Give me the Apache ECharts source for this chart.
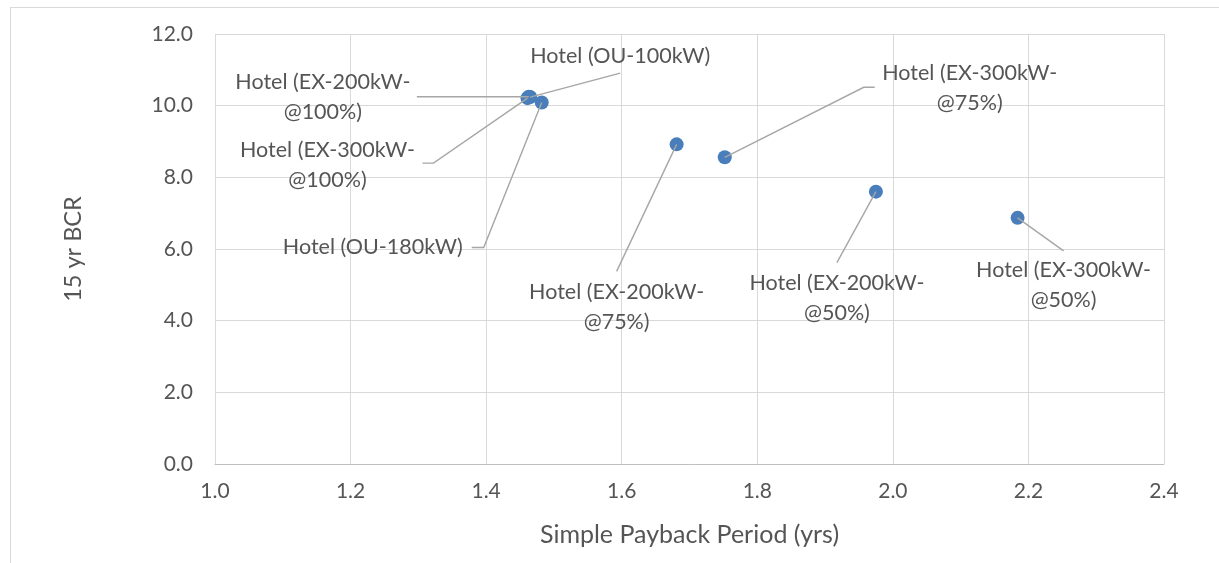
<!DOCTYPE html>
<html>
<head>
<meta charset="utf-8">
<script src="https://cdn.jsdelivr.net/npm/echarts@6/dist/echarts.min.js"></script>
<style>
  html, body { margin: 0; padding: 0; background: #fff; }
  #chart { width: 1219px; height: 563px; }
</style>
</head>
<body>
<div id="chart"></div>
<script>
// Hotel scenarios: simple payback vs. 15-year benefit/cost ratio
const scenarioLabels = [
  'Hotel (EX-200kW-\n@100%)',
  'Hotel (OU-100kW)',
  'Hotel (EX-300kW-\n@100%)',
  'Hotel (OU-180kW)',
  'Hotel (EX-200kW-\n@75%)',
  'Hotel (EX-300kW-\n@75%)',
  'Hotel (EX-200kW-\n@50%)',
  'Hotel (EX-300kW-\n@50%)'
];
const paybackYears = [1.463, 1.465, 1.461, 1.482, 1.681, 1.752, 1.975, 2.184];
const bcr15yr = [10.25, 10.24, 10.21, 10.09, 8.92, 8.56, 7.60, 6.87];

// Label placement relative to its point (px)
const labelOffsets = [
  [-206, 0], [90, -41], [-200, 67], [-169, 145],
  [-60, 163], [245, -69], [-39, 106], [46, 67]
];
// Leader line vertices relative to the point (px), from the point outward to the label
const leaderPaths = [
  [[-112, 0]],
  [[90, -24]],
  [[-94, 65], [-105, 65]],
  [[-58, 145], [-70, 145]],
  [[-60, 127]],
  [[139, -70], [150, -70]],
  [[-39, 71]],
  [[46, 33]]
];

const FONT = 'Lato';
const TEXT = '#555555';

const chart = echarts.init(document.getElementById('chart'), null, { renderer: 'canvas' });

const points = paybackYears.map((x, i) => ({ value: [x, bcr15yr[i]], name: scenarioLabels[i] }));

const frame = [
  { type: 'line', shape: { x1: 10.5, y1: 7, x2: 10.5, y2: 563 }, style: { stroke: '#d9d9d9', lineWidth: 1 }, silent: true },
  { type: 'line', shape: { x1: 10, y1: 7.5, x2: 1219, y2: 7.5 }, style: { stroke: '#d9d9d9', lineWidth: 1 }, silent: true }
];

chart.setOption({
  animation: false,
  backgroundColor: '#ffffff',
  grid: { left: 215, right: 55, top: 34, bottom: 99, containLabel: false },
  graphic: frame,
  xAxis: {
    type: 'value',
    min: 1.0, max: 2.4, interval: 0.2,
    name: 'Simple Payback Period (yrs)',
    nameLocation: 'middle',
    nameGap: 58,
    nameTextStyle: { fontFamily: FONT, fontSize: 25, color: TEXT },
    axisLine: { show: true, lineStyle: { color: '#bfbfbf', width: 1 } },
    axisTick: { show: false },
    axisLabel: { fontFamily: FONT, fontSize: 21, color: TEXT, margin: 17, formatter: v => v.toFixed(1) },
    splitLine: { show: true, lineStyle: { color: '#d9d9d9', width: 1 } }
  },
  yAxis: {
    type: 'value',
    min: 0, max: 12, interval: 2,
    name: '15 yr BCR',
    nameLocation: 'middle',
    nameGap: 130,
    nameTextStyle: { fontFamily: FONT, fontSize: 23.5, color: TEXT },
    axisLine: { show: false },
    axisTick: { show: false },
    axisLabel: { fontFamily: FONT, fontSize: 21, color: TEXT, margin: 22, formatter: v => v.toFixed(1) },
    splitLine: { show: true, lineStyle: { color: '#d9d9d9', width: 1 } }
  },
  series: [{
    type: 'scatter',
    symbol: 'circle',
    symbolSize: 14,
    itemStyle: { color: '#4a7ebb', opacity: 1 },
    data: points,
    label: {
      show: true,
      position: 'inside',
      formatter: p => p.name,
      fontFamily: FONT,
      fontSize: 21.5,
      lineHeight: 30,
      color: TEXT,
      align: 'center',
      verticalAlign: 'middle'
    },
    labelLayout: params => ({
      dx: labelOffsets[params.dataIndex][0],
      dy: labelOffsets[params.dataIndex][1]
    })
  }]
});

// Leader lines from each point to its label, anchored on the point's pixel position
const leaders = paybackYears.map((x, i) => {
  const p = chart.convertToPixel({ seriesIndex: 0 }, [x, bcr15yr[i]]);
  const pts = [p].concat(leaderPaths[i].map(d => [p[0] + d[0], p[1] + d[1]]));
  return {
    type: 'polyline',
    shape: { points: pts },
    style: { stroke: '#a6a6a6', lineWidth: 1.4, fill: null },
    z: 10,
    silent: true
  };
});
chart.setOption({ graphic: frame.concat(leaders) });
</script>
</body>
</html>
